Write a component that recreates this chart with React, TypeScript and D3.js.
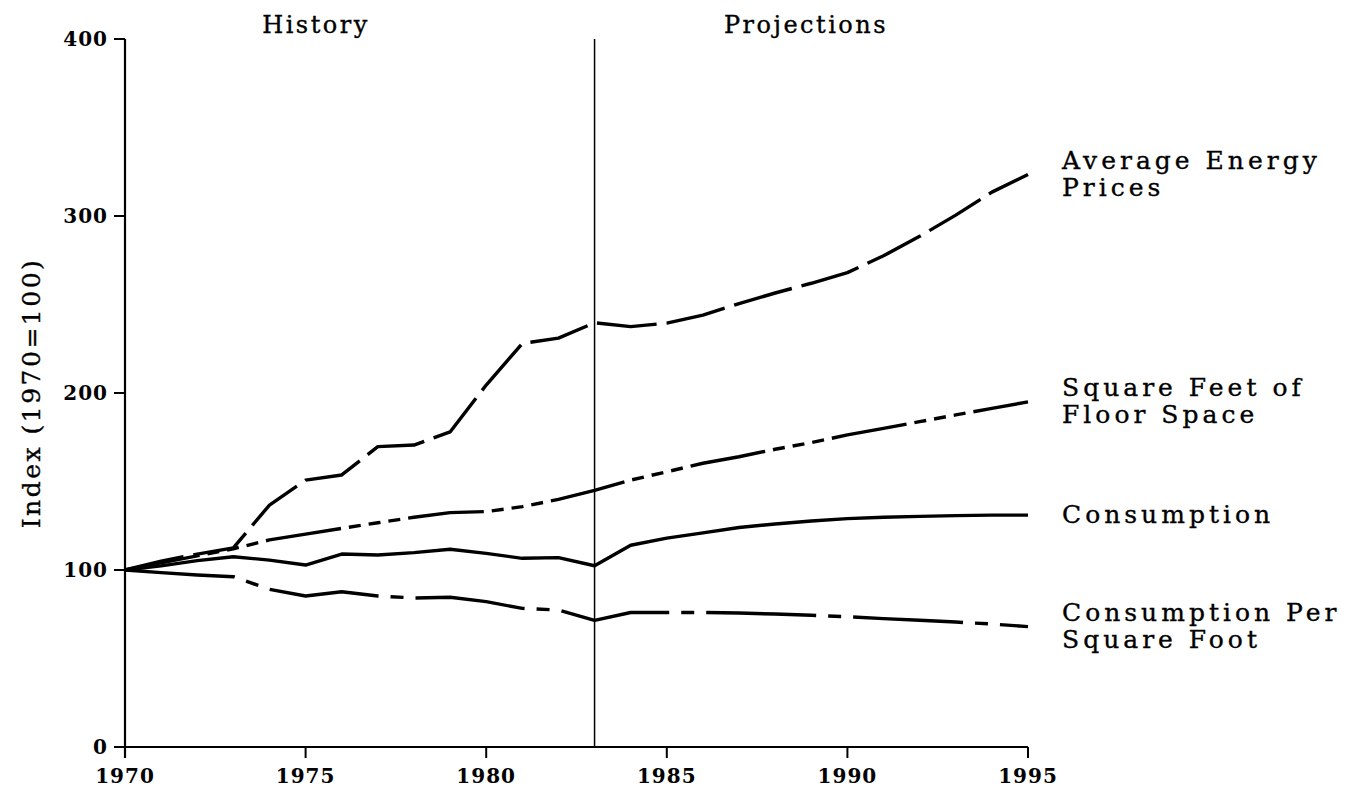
import React from "react";
import * as d3 from "d3";

const years = [1970,1971,1972,1973,1974,1975,1976,1977,1978,1979,1980,1981,1982,1983,1984,1985,1986,1987,1988,1989,1990,1991,1992,1993,1994,1995];
const energyPrices = [100,105,109,112.5,136.7,150.8,153.7,169.7,170.6,178,204.5,228,231,239.7,237.5,239.5,244,250.5,256.5,262,268,277.5,288.5,300.5,313.5,323.5];
const floorSpace = [100,104,108,112,117,120.3,123.5,126.7,129.8,132.4,133,135.8,139.9,145,150.8,155.5,160.3,164,168.2,172,176.3,180,183.8,187.6,191.3,195];
const consumption = [100,102.3,105.3,107.5,105.6,102.8,109,108.5,109.8,111.7,109.4,106.6,107,102.4,114,118,121,124,126,127.7,129,129.8,130.3,130.7,131,131];
const perSqFoot = [100,98.5,97.2,96.2,89.1,85.3,87.7,85.3,84.2,84.6,82.1,78.3,77.4,71.5,76,76,76,75.7,75.1,74.4,73.6,72.5,71.6,70.6,69.5,68];

const xTicks = [1970,1975,1980,1985,1990,1995];
const yTicks = [0,100,200,300,400];
const splitYear = 1983;

const seriesList = [
  { name: "energy", label: ["Average Energy", "Prices"], values: energyPrices, dash: "60 10" },
  { name: "floor", label: ["Square Feet of", "Floor Space"], values: floorSpace, dash: "76 8 12 8 12 8 12 8" },
  { name: "cons", label: ["Consumption"], values: consumption, dash: "none" },
  { name: "persq", label: ["Consumption Per", "Square Foot"], values: perSqFoot, dash: "110 12 13 12" },
];

const W = 1362, H = 789;
const FONT = "'DejaVu Serif', serif";

export default function App() {
  const x = d3.scaleLinear().domain([1970, 1995]).range([125, 1028]);
  const y = d3.scaleLinear().domain([0, 400]).range([747, 39]);
  const line = d3.line<number>().x((_, i) => x(years[i])).y((d) => y(d)).curve(d3.curveLinear);
  const lineH = 27;
  const textStyle = { fontFamily: FONT, fill: "#000", stroke: "#000", strokeWidth: 0.35 };

  return (
    <svg width={W} height={H} style={{ position: "absolute", left: 0, top: 0, background: "#fff" }}>
      {/* axes */}
      <line x1={x(1970)} x2={x(1970)} y1={y(400)} y2={y(0) + 11} stroke="#000" strokeWidth={2.2} />
      <line x1={x(1970) - 11} x2={x(1995)} y1={y(0)} y2={y(0)} stroke="#000" strokeWidth={2.2} />
      {yTicks.map((t) => (
        <g key={"y" + t}>
          <line x1={x(1970) - 11} x2={x(1970)} y1={y(t)} y2={y(t)} stroke="#000" strokeWidth={2} />
          <text x={x(1970) - 17} y={y(t) + 7} textAnchor="end" fontFamily={FONT} fontWeight="bold" fontSize={20} letterSpacing={1}>{t}</text>
        </g>
      ))}
      {xTicks.map((t) => (
        <g key={"x" + t}>
          <line x1={x(t)} x2={x(t)} y1={y(0)} y2={y(0) + 11} stroke="#000" strokeWidth={2} />
          <text x={x(t)} y={783} textAnchor="middle" fontFamily={FONT} fontWeight="bold" fontSize={20} letterSpacing={1}>{t}</text>
        </g>
      ))}
      {/* divider */}
      <line x1={x(splitYear)} x2={x(splitYear)} y1={y(400)} y2={y(0)} stroke="#000" strokeWidth={1.5} />
      <text x={316} y={33} textAnchor="middle" {...textStyle} fontSize={24} letterSpacing={2.5}>History</text>
      <text x={806} y={33} textAnchor="middle" {...textStyle} fontSize={24} letterSpacing={2.5}>Projections</text>
      {/* y label */}
      <text transform={`translate(40, ${(y(0) + y(400)) / 2}) rotate(-90)`} textAnchor="middle" {...textStyle} fontSize={25} letterSpacing={2.5}>Index (1970=100)</text>
      {/* series */}
      {seriesList.map((s) => {
        const endY = y(s.values[s.values.length - 1]);
        const n = s.label.length;
        const firstBase = endY + 8 - ((n - 1) * lineH) / 2;
        return (
          <g key={s.name}>
            <path d={line(s.values) || ""} fill="none" stroke="#000" strokeWidth={3.4} strokeDasharray={s.dash} strokeLinejoin="round" />
            {s.label.map((l, i) => (
              <text key={i} x={1062} y={firstBase + i * lineH} {...textStyle} fontSize={25} letterSpacing={4}>{l}</text>
            ))}
          </g>
        );
      })}
    </svg>
  );
}
